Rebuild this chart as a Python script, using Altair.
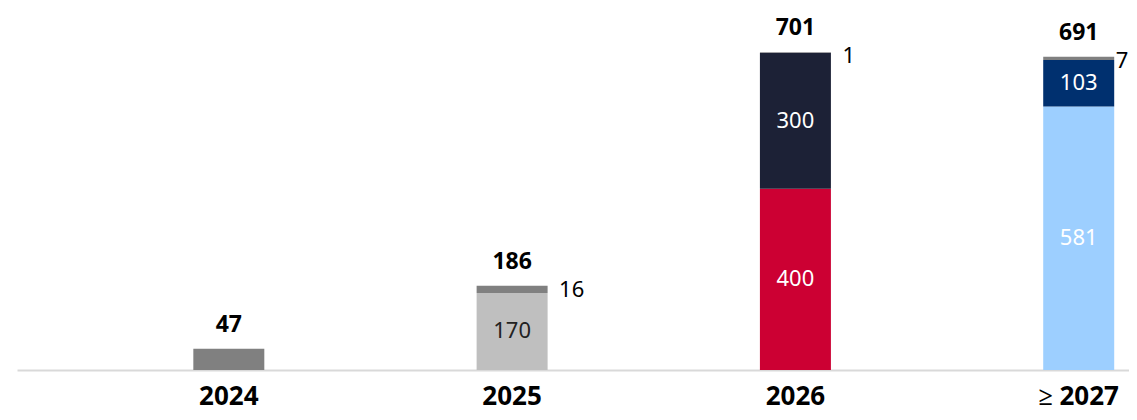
import altair as alt
import pandas as pd

# ---- data ----
years = ["2024", "2025", "2026", "≥ 2027"]
seg_year = ["2024", "2025", "2025", "2026", "2026", "2026", "≥ 2027", "≥ 2027", "≥ 2027"]
seg_series = ["Other", "Light gray", "Other", "Red", "Navy", "Other", "Light blue", "Dark blue", "Other"]
seg_value = [47, 170, 16, 400, 300, 1, 581, 103, 7]

# stacking order bottom -> top
series_names = ["Light gray", "Red", "Light blue", "Navy", "Dark blue", "Other"]
series_colors = ["#BFBFBF", "#CC0033", "#9DCFFF", "#1C2136", "#00306F", "#808080"]
inner_text_colors = ["#222222", "#FFFFFF", "#FFFFFF", "#FFFFFF", "#FFFFFF", "#000000"]

df = pd.DataFrame({"year": seg_year, "series": seg_series, "value": seg_value})
df["rank"] = df["series"].map({s: i for i, s in enumerate(series_names)})
df["tcol"] = df["series"].map(dict(zip(series_names, inner_text_colors)))

FONT = "Noto Sans"
LAST = years[-1]

x_enc = alt.X(
    "year:N",
    sort=years,
    scale=alt.Scale(domain=years, paddingInner=0.7494, paddingOuter=0.3373,
                    align=0.9226, round=False),
    axis=alt.Axis(title=None, ticks=False, labelAngle=0, domainColor="#D9D9D9",
                  domainWidth=2, labelFontSize=26, labelFontWeight="bold",
                  labelColor="#000000", labelFont=FONT, labelPadding=13,
                  grid=False),
)
y_scale = alt.Scale(domain=[0, 750], nice=False, zero=True)

base = alt.Chart(df).transform_stack(
    stack="value", groupby=["year"], as_=["y0", "y1"],
    sort=[alt.SortField("rank", order="ascending")],
).transform_joinaggregate(n="count()", groupby=["year"])

bars = base.mark_bar().encode(
    x=x_enc,
    y=alt.Y("y0:Q", scale=y_scale, axis=None),
    y2="y1:Q",
    color=alt.Color("series:N", scale=alt.Scale(domain=series_names, range=series_colors), legend=None),
)

inner = base.transform_filter(alt.datum.series != "Other").transform_calculate(
    mid="(datum.y0 + datum.y1) / 2"
).mark_text(font=FONT, fontSize=22, baseline="middle", align="center").encode(
    x=alt.X("year:N", sort=years),
    y=alt.Y("mid:Q", scale=y_scale),
    text=alt.Text("value:Q"),
    color=alt.Color("tcol:N", scale=None),
)

side_filter = (alt.datum.series == "Other") & (alt.datum.n > 1)
side = base.transform_filter(side_filter & (alt.datum.year != LAST)).mark_text(
    font=FONT, fontSize=22, baseline="middle", align="left", dx=47, dy=4, color="#000000"
).encode(
    x=alt.X("year:N", sort=years),
    y=alt.Y("y1:Q", scale=y_scale),
    text=alt.Text("value:Q"),
)
side_last = base.transform_filter(side_filter & (alt.datum.year == LAST)).mark_text(
    font=FONT, fontSize=22, baseline="middle", align="left", dx=37, dy=4, color="#000000"
).encode(
    x=alt.X("year:N", sort=years),
    y=alt.Y("y1:Q", scale=y_scale),
    text=alt.Text("value:Q"),
)

totals = alt.Chart(df).transform_aggregate(
    total="sum(value)", groupby=["year"]
).mark_text(font=FONT, fontSize=23, fontWeight="bold", baseline="middle",
            align="center", dy=-24, color="#000000").encode(
    x=alt.X("year:N", sort=years),
    y=alt.Y("total:Q", scale=y_scale),
    text=alt.Text("total:Q"),
)

chart = alt.layer(bars, inner, side, side_last, totals).properties(
    width=1112, height=340,
    autosize=alt.AutoSizeParams(type="none"),
    padding={"left": 9, "top": 22, "right": 0, "bottom": 42},
).configure(background="#FFFFFF").configure_view(stroke=None)

chart.save("out.html", embed_options={"renderer": "svg", "actions": False})
